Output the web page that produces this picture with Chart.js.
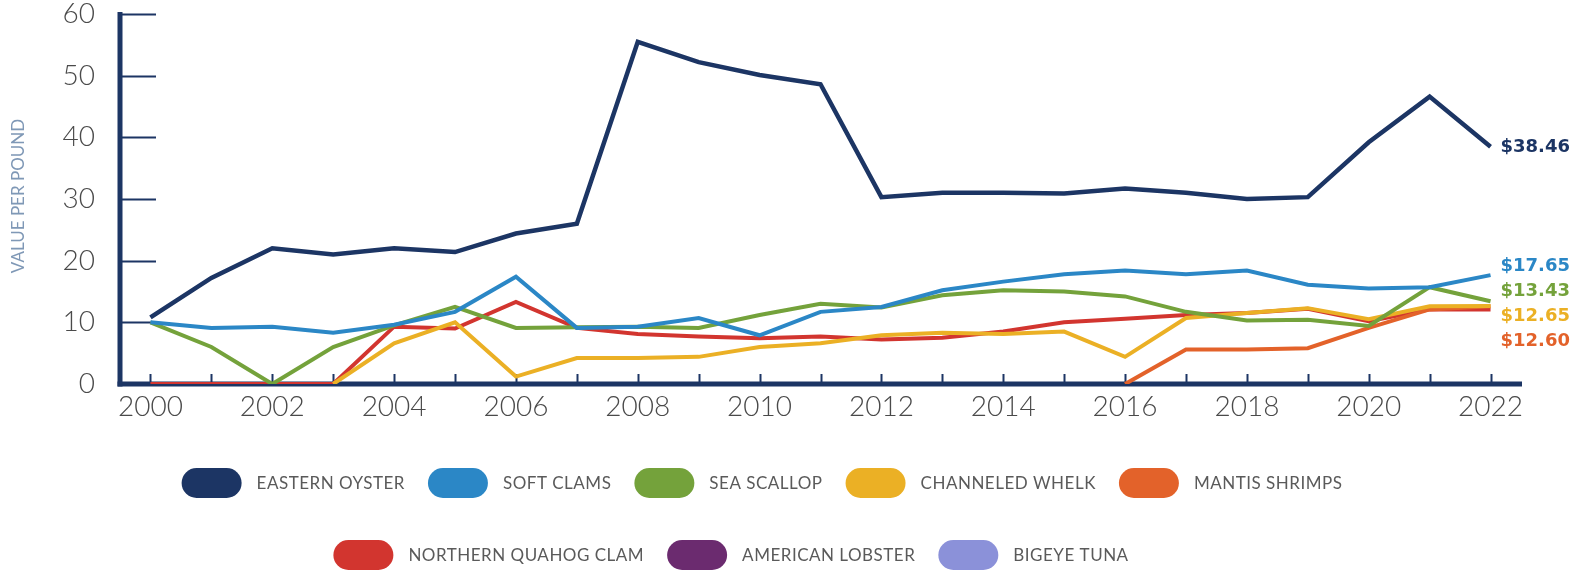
<!DOCTYPE html>
<html>
<head>
<meta charset="utf-8">
<script src="https://cdn.jsdelivr.net/npm/chart.js@4"></script>
<style>
  html, body { margin: 0; padding: 0; background: #ffffff; }
  #wrap { width: 1573px; height: 573px; }
</style>
</head>
<body>
<div id="wrap"><canvas id="chart" width="1573" height="573"></canvas></div>
<script>
// Years on the horizontal axis
const years = [2000, 2001, 2002, 2003, 2004, 2005, 2006, 2007, 2008, 2009, 2010,
               2011, 2012, 2013, 2014, 2015, 2016, 2017, 2018, 2019, 2020, 2021, 2022];

// Value per pound by species (null = no landings reported)
const easternOyster = [10.8, 17.2, 22.0, 21.0, 22.0, 21.4, 24.4, 26.0, 55.5, 52.2, 50.1,
                       48.6, 30.3, 31.0, 31.0, 30.9, 31.7, 31.0, 30.0, 30.3, 39.2, 46.6, 38.46];
const softClams = [10.0, 9.1, 9.3, 8.3, 9.6, 11.7, 17.4, 9.1, 9.3, 10.7, 7.9,
                   11.7, 12.5, 15.2, 16.6, 17.8, 18.4, 17.8, 18.4, 16.1, 15.5, 15.7, 17.65];
const seaScallop = [10.0, 6.0, 0, 6.0, 9.5, 12.5, 9.1, 9.2, 9.3, 9.1, 11.2,
                    13.0, 12.4, 14.4, 15.2, 15.0, 14.2, 11.7, 10.3, 10.4, 9.4, 15.7, 13.43];
const channeledWhelk = [null, null, null, 0, 6.6, 10.0, 1.2, 4.2, 4.2, 4.4, 6.0,
                        6.6, 7.9, 8.3, 8.1, 8.5, 4.4, 10.7, 11.5, 12.3, 10.5, 12.6, 12.65];
const mantisShrimps = [null, null, null, null, null, null, null, null, null, null, null,
                       null, null, null, null, null, 0, 5.6, 5.6, 5.8, 9.1, 12.1, 12.60];
const northernQuahogClam = [0, 0, 0, 0, 9.3, 9.0, 13.3, 9.1, 8.1, 7.7, 7.4,
                            7.7, 7.2, 7.5, 8.5, 10.0, 10.6, 11.2, 11.5, 12.2, 10.2, 12.1, 12.1];
const americanLobster = [null, null, null, null, null, null, null, null, null, null, null,
                         null, null, null, null, null, null, null, null, null, null, null, null];
const bigeyeTuna = [null, null, null, null, null, null, null, null, null, null, null,
                    null, null, null, null, null, null, null, null, null, null, null, null];

const seriesNames = ['EASTERN OYSTER', 'SOFT CLAMS', 'SEA SCALLOP', 'CHANNELED WHELK', 'MANTIS SHRIMPS',
                     'NORTHERN QUAHOG CLAM', 'AMERICAN LOBSTER', 'BIGEYE TUNA'];
const yAxisTitle = 'VALUE PER POUND';

const NAVY = '#1c3564';
const colors = ['#1c3564', '#2b87c6', '#74a23b', '#ebb025', '#e3622a', '#d2352f', '#6b2b6f', '#8b91d9'];
const seriesData = [easternOyster, softClams, seaScallop, channeledWhelk, mantisShrimps,
                    northernQuahogClam, americanLobster, bigeyeTuna];
const endLabelled = [true, true, true, true, true, false, false, false];

const datasets = seriesNames.map((name, i) => ({
  label: name,
  data: seriesData[i],
  borderColor: colors[i],
  backgroundColor: colors[i],
  borderWidth: i === 0 ? 4.5 : 4,
  pointRadius: 0,
  tension: 0,
  fill: false,
  endLabel: endLabelled[i]
}));

// Axis lines with inward tick marks, plus the rotated axis title
const axisPlugin = {
  id: 'axisLines',
  beforeDatasetsDraw(chart) {
    const { ctx, chartArea: a, scales: { x, y } } = chart;
    ctx.save();
    ctx.strokeStyle = NAVY;
    ctx.lineCap = 'butt';
    // y ticks
    ctx.lineWidth = 2;
    y.ticks.forEach(t => {
      const py = Math.round(y.getPixelForValue(t.value)) + 0.5;
      ctx.beginPath();
      ctx.moveTo(a.left, py);
      ctx.lineTo(a.left + 36, py);
      ctx.stroke();
    });
    // x ticks at every year
    years.forEach((yr, i) => {
      const px = Math.round(x.getPixelForValue(i)) + 0.5;
      ctx.beginPath();
      ctx.moveTo(px, a.bottom);
      ctx.lineTo(px, a.bottom - 10);
      ctx.stroke();
    });
    // main axis lines
    ctx.lineWidth = 5;
    ctx.beginPath();
    ctx.moveTo(a.left, a.top - 2);
    ctx.lineTo(a.left, a.bottom + 2.5);
    ctx.stroke();
    ctx.beginPath();
    ctx.moveTo(a.left - 2.5, a.bottom);
    ctx.lineTo(a.right + 1, a.bottom);
    ctx.stroke();
    // axis title
    ctx.translate(19, (a.top + a.bottom) / 2 - 3);
    ctx.rotate(-Math.PI / 2);
    ctx.font = '400 17px Lato';
    ctx.fillStyle = '#7f98b6';
    ctx.textAlign = 'center';
    ctx.textBaseline = 'middle';
    ctx.fillText(yAxisTitle, 0, 0);
    ctx.restore();
  }
};

// Latest value written beside the end of each highlighted line, spread apart when crowded
const endLabelPlugin = {
  id: 'endLabels',
  afterDatasetsDraw(chart) {
    const ctx = chart.ctx;
    const items = [];
    chart.data.datasets.forEach((ds, i) => {
      if (!ds.endLabel) return;
      const meta = chart.getDatasetMeta(i);
      const last = ds.data.length - 1;
      const pt = meta.data[last];
      items.push({ text: '$' + ds.data[last].toFixed(2), color: ds.borderColor, x: pt.x + 10, y: pt.y });
    });
    items.sort((p, q) => p.y - q.y);
    const gap = 25;
    let groups = items.map(it => [it]);
    const place = g => {
      const ys = g.map(it => it.y).sort((p, q) => p - q);
      const n = ys.length;
      const mid = n % 2 ? ys[(n - 1) / 2] : (ys[n / 2 - 1] + ys[n / 2]) / 2;
      g.forEach((it, k) => { it.py = mid + (k - (n - 1) / 2) * gap; });
    };
    let merged = true;
    while (merged) {
      merged = false;
      groups.forEach(place);
      for (let k = 0; k < groups.length - 1; k++) {
        const a = groups[k], b = groups[k + 1];
        if (a[a.length - 1].py + gap > b[0].py) {
          groups.splice(k, 2, a.concat(b));
          merged = true;
          break;
        }
      }
    }
    groups.forEach(place);
    ctx.save();
    ctx.font = 'bold 18px "DejaVu Sans"';
    ctx.textAlign = 'left';
    ctx.textBaseline = 'middle';
    items.forEach(it => {
      ctx.fillStyle = it.color;
      ctx.fillText(it.text, it.x, it.py);
    });
    ctx.restore();
  }
};

// Two-row legend with rounded swatches
const pillLegendPlugin = {
  id: 'pillLegend',
  afterDraw(chart) {
    const { ctx, chartArea: a } = chart;
    const rows = [[0, 1, 2, 3, 4], [5, 6, 7]];
    const rowY = [a.bottom + 99, a.bottom + 171];
    const rowCenter = [762, 731];
    const sw = 60, sh = 30, textGap = 15, itemGap = 23;
    ctx.save();
    ctx.font = '400 17px Lato';
    ctx.letterSpacing = '0.5px';
    ctx.textBaseline = 'middle';
    ctx.textAlign = 'left';
    rows.forEach((row, r) => {
      const widths = row.map(i => sw + textGap + ctx.measureText(chart.data.datasets[i].label).width);
      const total = widths.reduce((s, w) => s + w, 0) + itemGap * (row.length - 1);
      let x = rowCenter[r] - total / 2;
      const cy = rowY[r];
      row.forEach((i, k) => {
        const ds = chart.data.datasets[i];
        ctx.fillStyle = ds.borderColor;
        ctx.beginPath();
        ctx.roundRect(x, cy - sh / 2, sw, sh, sh / 2);
        ctx.fill();
        ctx.fillStyle = '#5a5a5a';
        ctx.fillText(ds.label, x + sw + textGap, cy + 1);
        x += widths[k] + itemGap;
      });
    });
    ctx.restore();
  }
};

new Chart(document.getElementById('chart'), {
  type: 'line',
  data: { labels: years.map(String), datasets },
  options: {
    responsive: false,
    animation: false,
    layout: { autoPadding: false, padding: { left: 10, top: 14, right: 52, bottom: 0 } },
    plugins: { legend: { display: false }, tooltip: { enabled: false } },
    elements: { line: { borderJoinStyle: 'miter', borderCapStyle: 'butt' } },
    scales: {
      x: {
        type: 'category',
        offset: true,
        grid: { display: false, drawTicks: false },
        border: { display: false },
        ticks: {
          autoSkip: false,
          maxRotation: 0,
          padding: 6,
          color: '#4a4a4a',
          font: { family: 'Lato', size: 28, weight: '300' },
          callback(v, i) { return i % 2 === 0 ? this.getLabelForValue(v) : ''; }
        },
        afterFit(s) { s.height = 189; s.paddingLeft = 0; s.paddingRight = 0; }
      },
      y: {
        min: 0,
        max: 60,
        grid: { display: false, drawTicks: false },
        border: { display: false },
        ticks: {
          stepSize: 10,
          padding: 25,
          color: '#4a4a4a',
          font: { family: 'Lato', size: 28, weight: '300', lineHeight: 1 }
        },
        title: { display: false },
        afterFit(s) { s.width = 110; s.paddingTop = 0; s.paddingBottom = 0; }
      }
    }
  },
  plugins: [axisPlugin, endLabelPlugin, pillLegendPlugin]
});
</script>
</body>
</html>
